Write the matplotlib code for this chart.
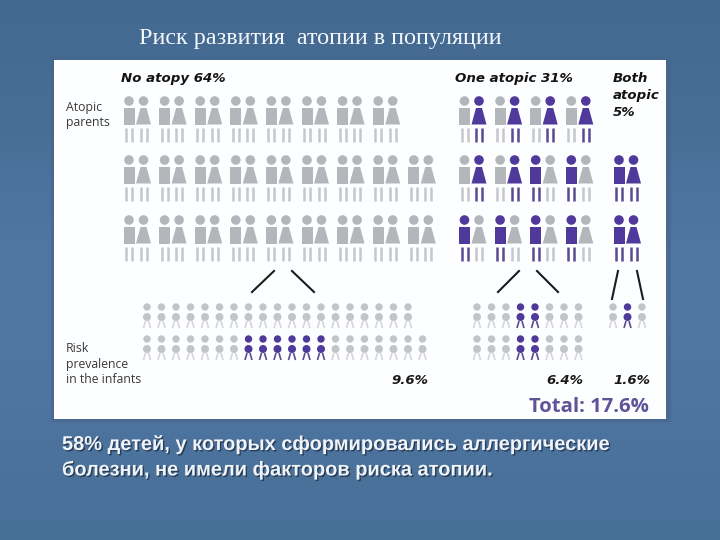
#!/usr/bin/env python3
"""
Atopy risk slide: parents and infants as pictograms, grouped by atopic parents.
"""

import matplotlib
matplotlib.use('Agg')
import matplotlib.pyplot as plt
import matplotlib.patheffects as pe
from matplotlib.colors import LinearSegmentedColormap
from matplotlib.patches import Circle, Polygon, Rectangle
import numpy as np

TITLE = "Риск развития  атопии в популяции"
CAPTION = ["58% детей, у которых сформировались аллергические",
           "болезни, не имели факторов риска атопии."]
GROUP_LABELS = ["No atopy 64%", "One atopic 31%"]
BOTH_LABEL = ["Both", "atopic", "5%"]
INFANT_PCT = ["9.6%", "6.4%", "1.6%"]
TOTAL_LABEL = "Total: 17.6%"

# parents: 1 = atopic, 0 = not, one list per row
no_atopy_fathers = [[0, 0, 0, 0, 0, 0, 0, 0],
                    [0, 0, 0, 0, 0, 0, 0, 0, 0],
                    [0, 0, 0, 0, 0, 0, 0, 0, 0]]
no_atopy_mothers = [[0, 0, 0, 0, 0, 0, 0, 0],
                    [0, 0, 0, 0, 0, 0, 0, 0, 0],
                    [0, 0, 0, 0, 0, 0, 0, 0, 0]]
one_atopic_fathers = [[0, 0, 0, 0], [0, 0, 1, 1], [1, 1, 1, 1]]
one_atopic_mothers = [[1, 1, 1, 1], [1, 1, 0, 0], [0, 0, 0, 0]]
both_fathers = [[], [1], [1]]
both_mothers = [[], [1], [1]]

# infants: 1 = affected
no_atopy_infants = [[0, 0, 0, 0, 0, 0, 0, 0, 0, 0, 0, 0, 0, 0, 0, 0, 0, 0, 0],
                    [0, 0, 0, 0, 0, 0, 0, 1, 1, 1, 1, 1, 1, 0, 0, 0, 0, 0, 0, 0]]
one_atopic_infants = [[0, 0, 0, 1, 1, 0, 0, 0],
                      [0, 0, 0, 1, 1, 0, 0, 0]]
both_infants = [[0, 1, 0]]

GREY = "#b3b6ba"
GREY_LEG = "#c6c7cb"
GREY_SMALL = "#c3c4c8"
GREY_SMALL_LEG = "#d6d6d8"
PURPLE = "#4f3a9c"
PURPLE_LEG = "#5a4a92"

ROW_Y = [101, 160, 220]
PAIR_STEP = 35.6
INFANT_STEP = 14.5
INFANT_ROW_Y = [307, 339]


def draw_man(ax, x, y, atopic):
    color = PURPLE if atopic else GREY
    leg = PURPLE_LEG if atopic else GREY_LEG
    ax.add_patch(Circle((x, y), 4.8, fc=color, ec="none"))
    ax.add_patch(Rectangle((x - 5.5, y + 7), 11, 16.5, fc=color, ec="none"))
    for dx in (-3, 3):
        ax.plot([x + dx, x + dx], [y + 27, y + 41], color=leg, lw=1.8,
                solid_capstyle="butt")


def draw_woman(ax, x, y, atopic):
    color = PURPLE if atopic else GREY
    leg = PURPLE_LEG if atopic else GREY_LEG
    ax.add_patch(Circle((x, y), 4.8, fc=color, ec="none"))
    ax.add_patch(Polygon([(x - 3, y + 7), (x + 3, y + 7),
                          (x + 7.5, y + 23.5), (x - 7.5, y + 23.5)],
                         fc=color, ec="none"))
    for dx in (-3, 3):
        ax.plot([x + dx, x + dx], [y + 27, y + 41], color=leg, lw=1.8,
                solid_capstyle="butt")


def draw_infant(ax, x, y, affected):
    color = PURPLE if affected else GREY_SMALL
    leg = PURPLE_LEG if affected else GREY_SMALL_LEG
    ax.add_patch(Circle((x, y), 3.7, fc=color, ec="none"))
    ax.add_patch(Circle((x, y + 10), 4, fc=color, ec="none"))
    for sign in (-1, 1):
        ax.plot([x + sign * 1.5, x + sign * 3.5], [y + 14, y + 21], color=leg,
                lw=1.2, solid_capstyle="butt")


def draw_parents(ax, x0, fathers, mothers):
    for y, row_f, row_m in zip(ROW_Y, fathers, mothers):
        for i, (f, m) in enumerate(zip(row_f, row_m)):
            x = x0 + i * PAIR_STEP
            draw_man(ax, x, y, f)
            draw_woman(ax, x + 14.5, y, m)


def draw_infants(ax, x0, rows):
    for y, row in zip(INFANT_ROW_Y, rows):
        for i, affected in enumerate(row):
            draw_infant(ax, x0 + i * INFANT_STEP, y, affected)


def draw_fork(ax, cx, top_dx, bottom_dx, bottom_y):
    for sign in (-1, 1):
        ax.plot([cx + sign * top_dx, cx + sign * bottom_dx], [271, bottom_y],
                color="#1c1c1c", lw=1.5)


def main() -> None:
    plt.rcParams['font.family'] = ['Open Sans', 'DejaVu Sans']

    fig = plt.figure(figsize=(7.2, 5.4), dpi=100)
    ax = fig.add_axes([0, 0, 1, 1])
    ax.axis("off")

    # slide background
    cmap = LinearSegmentedColormap.from_list(
        "slide", ["#446990", "#4a6f97", "#5177a3", "#4e749f", "#477097"])
    ax.imshow(np.linspace(0, 1, 256).reshape(-1, 1), cmap=cmap, aspect="auto",
              extent=(0, 720, 540, 0), zorder=0)
    ax.set_xlim(0, 720)
    ax.set_ylim(540, 0)

    # white panel with its soft shadow
    ax.add_patch(Rectangle((51, 57), 620, 365, fc="#45648a", ec="none", alpha=0.55, zorder=1))
    ax.add_patch(Rectangle((54, 60), 612, 359, fc="#fdfeff", ec="none", zorder=1))

    shadow = [pe.withSimplePatchShadow(offset=(1, -1), shadow_rgbFace="#1e3048", alpha=0.8)]
    ax.text(139, 44, TITLE, family=["Liberation Serif"], fontsize=17.4,
            color="#f1f6fb", va="baseline")
    for text, y in zip(CAPTION, [450, 475.5]):
        ax.text(62, y, text, family=["Liberation Sans"], fontweight="bold",
                fontsize=14.4, color="#f0f4f8", va="baseline", path_effects=shadow)

    for text, x in zip(GROUP_LABELS, [121, 455]):
        ax.text(x, 82, text, family=["DejaVu Sans"], fontsize=9.6, fontweight="bold",
                style="italic", color="#141414", va="baseline")
    for text, y in zip(BOTH_LABEL, [82, 99, 116]):
        ax.text(613, y, text, family=["DejaVu Sans"], fontsize=9.6, fontweight="bold",
                style="italic", color="#141414", va="baseline")

    for text, y in [("Atopic", 111), ("parents", 126), ("Risk", 352),
                    ("prevalence", 368), ("in the infants", 383)]:
        ax.text(66, y, text, fontsize=8.8, color="#3a3a3a", va="baseline")

    draw_parents(ax, 129, no_atopy_fathers, no_atopy_mothers)
    draw_parents(ax, 464.5, one_atopic_fathers, one_atopic_mothers)
    draw_parents(ax, 619, both_fathers, both_mothers)

    draw_fork(ax, 283, 9, 31, 292)
    draw_fork(ax, 528, 9, 30, 292)
    draw_fork(ax, 627.5, 9.5, 15.5, 299)

    draw_infants(ax, 147, no_atopy_infants)
    draw_infants(ax, 477, one_atopic_infants)
    draw_infants(ax, 613, both_infants)

    for text, x in zip(INFANT_PCT, [428, 583, 650]):
        ax.text(x, 384, text, family=["DejaVu Sans"], fontsize=9.6, fontweight="bold",
                style="italic", color="#1a1a1a", ha="right", va="baseline")
    ax.text(649, 412, TOTAL_LABEL, fontsize=14.6, fontweight="bold", color="#5f5498",
            ha="right", va="baseline")

    fig.savefig("out.png", dpi=100)
    plt.close(fig)


if __name__ == "__main__":
    main()
